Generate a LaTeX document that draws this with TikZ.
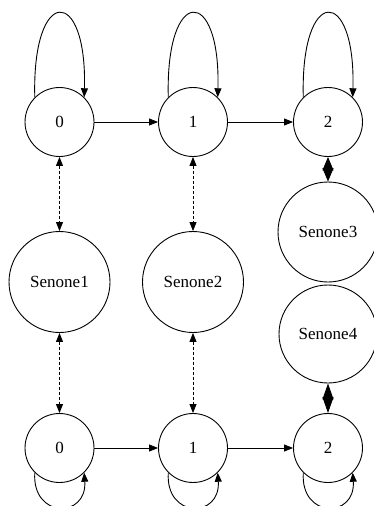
\documentclass[tikz,border=0pt]{standalone}
\usepackage{fontspec}
\setmainfont{Liberation Serif}
\usetikzlibrary{arrows.meta}
\begin{document}
\begin{tikzpicture}[x=1pt,y=-1pt,
  state/.style={draw,circle,line width=0.9pt,minimum size=69pt,inner sep=0pt,font=\fontsize{17}{20}\selectfont},
  senone/.style={draw,circle,line width=0.9pt,minimum size=101pt,inner sep=0pt,font=\fontsize{17}{20}\selectfont},
  edge/.style={line width=0.9pt,-{Triangle[length=9pt,width=7pt]}},
  dedge/.style={line width=0.9pt,dashed,dash pattern=on 3pt off 2pt,{Triangle[length=9pt,width=7pt]}-{Triangle[length=9pt,width=7pt]}},
]
\useasboundingbox (0,0) rectangle (374,506);
\node[state] (t0) at (59.5,122) {0};
\node[state] (t1) at (193,122) {1};
\node[state] (t2) at (328,122) {2};
\node[senone] (s1) at (59.5,282) {Senone1};
\node[senone] (s2) at (193,282) {Senone2};
\node[senone, minimum size=100pt] (s3) at (328,232) {Senone3};
\node[senone, minimum size=98pt] (s4) at (328,334) {Senone4};
\node[state] (b0) at (59.5,448) {0};
\node[state] (b1) at (193,448) {1};
\node[state] (b2) at (328,448) {2};
% rows
\draw[edge] (t0) -- (t1);
\draw[edge] (t1) -- (t2);
\draw[edge] (b0) -- (b1);
\draw[edge] (b1) -- (b2);
% self loops
\foreach \n in {t0,t1,t2}{
  \draw[edge] (\n.135) .. controls +(-3,-112) and +(3,-112) .. (\n.45);
}
\foreach \n in {b0,b1,b2}{
  \draw[edge] (\n.-135) .. controls +(-3,46) and +(3,46) .. (\n.-45);
}
% dashed
\draw[dedge] (t0) -- (s1);
\draw[dedge] (s1) -- (b0);
\draw[dedge] (t1) -- (s2);
\draw[dedge] (s2) -- (b1);
% diamonds
\draw[line width=0.9pt,{Triangle[length=13.5pt,width=11pt]}-{Triangle[length=13.5pt,width=11pt]}] (t2) -- (s3);
\draw[line width=0.9pt,{Triangle[length=16pt,width=11pt]}-{Triangle[length=16pt,width=11pt]}] (s4) -- (b2);
\end{tikzpicture}
\end{document}
